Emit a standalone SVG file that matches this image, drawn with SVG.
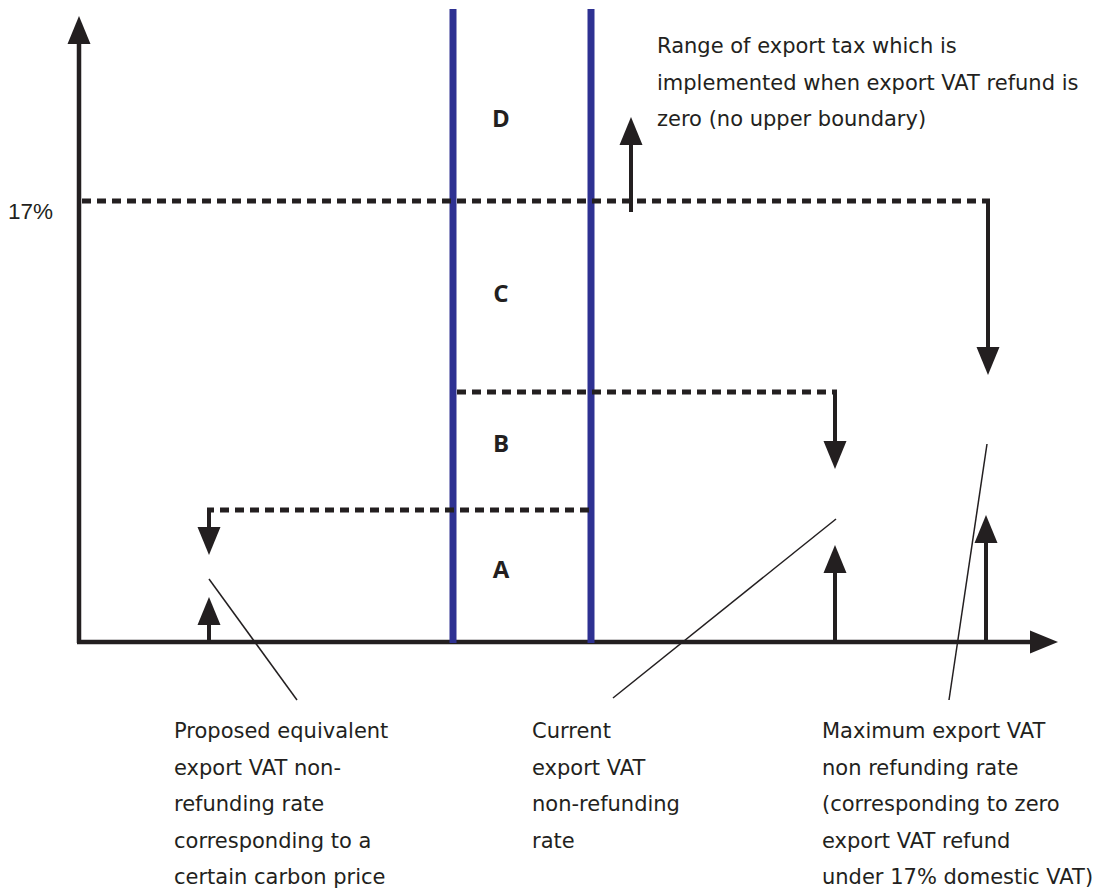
<svg xmlns="http://www.w3.org/2000/svg" width="1094" height="890" viewBox="0 0 1094 890">
<style>
.ax{stroke:#231f20;stroke-width:4.5;fill:none}
.sh{stroke:#231f20;stroke-width:4;fill:none}
.dash{stroke:#231f20;stroke-width:5;fill:none;stroke-dasharray:9 6}
.thin{stroke:#231f20;stroke-width:1.5;fill:none}
.blue{stroke:#2e3192;stroke-width:7;fill:none}
.head{fill:#231f20}
.t{font-family:"DejaVu Sans",sans-serif;font-size:21px;fill:#231f20}
.l{font-family:"Open Sans",sans-serif;font-size:24px;font-weight:700;fill:#231f20}
.p{font-family:"Liberation Sans",Arial,sans-serif;font-size:22.5px;fill:#231f20}
</style>
<rect width="1094" height="890" fill="#fff"/>
<g id="axes">
<line class="ax" x1="79" y1="643" x2="79" y2="40"/>
<polygon class="head" points="79,16 67.5,44 90.5,44"/>
<line class="ax" x1="77" y1="642" x2="1035" y2="642"/>
<polygon class="head" points="1058,642 1030,630.5 1030,653.5"/>
</g>
<g id="bands">
<line class="blue" x1="453" y1="9" x2="453" y2="643"/>
<line class="blue" x1="591" y1="9" x2="591" y2="643"/>
</g>
<g id="connectors">
<path class="dash" d="M82,201 H986"/>
<path class="sh" d="M988,198.5 V350"/>
<polygon class="head" points="988,375 976.5,347 999.5,347"/>
<path class="dash" d="M457,392 H833"/>
<path class="sh" d="M835,389.5 V446"/>
<polygon class="head" points="835,469 823.5,441 846.5,441"/>
<path class="dash" d="M589,510 H211"/>
<path class="sh" d="M209,507.5 V530"/>
<polygon class="head" points="209,555 197.5,527 220.5,527"/>
<path class="sh" d="M631,212 V140"/>
<polygon class="head" points="631,117 619.5,145 642.5,145"/>
<path class="sh" d="M209,642 V620"/>
<polygon class="head" points="209,597 197.5,625 220.5,625"/>
<path class="sh" d="M835,642 V568"/>
<polygon class="head" points="835,545 823.5,573 846.5,573"/>
<path class="sh" d="M986,642 V538"/>
<polygon class="head" points="986,515 974.5,543 997.5,543"/>
<line class="thin" x1="209" y1="579" x2="297" y2="700"/>
<line class="thin" x1="836" y1="519" x2="613" y2="698"/>
<line class="thin" x1="987" y1="444" x2="949" y2="700"/>
</g>
<g id="label-17"><text class="p" x="53" y="218.5" text-anchor="end">17%</text></g>
<g id="region-labels">
<text class="l" x="501" y="127" text-anchor="middle">D</text>
<text class="l" x="501" y="302" text-anchor="middle">C</text>
<text class="l" x="501" y="452" text-anchor="middle">B</text>
<text class="l" x="501" y="578" text-anchor="middle">A</text>
</g>
<g id="note-top">
<text class="t" x="657" y="53">Range of export tax which is</text>
<text class="t" x="657" y="89.5">implemented when export VAT refund is</text>
<text class="t" x="657" y="126">zero (no upper boundary)</text>
</g>
<g id="note-proposed">
<text class="t" x="174" y="738">Proposed equivalent</text>
<text class="t" x="174" y="774.5">export VAT non-</text>
<text class="t" x="174" y="811">refunding rate</text>
<text class="t" x="174" y="847.5">corresponding to a</text>
<text class="t" x="174" y="884">certain carbon price</text>
</g>
<g id="note-current">
<text class="t" x="532" y="738">Current</text>
<text class="t" x="532" y="774.5">export VAT</text>
<text class="t" x="532" y="811">non-refunding</text>
<text class="t" x="532" y="847.5">rate</text>
</g>
<g id="note-maximum">
<text class="t" x="822" y="738">Maximum export VAT</text>
<text class="t" x="822" y="774.5">non refunding rate</text>
<text class="t" x="822" y="811">(corresponding to zero</text>
<text class="t" x="822" y="847.5">export VAT refund</text>
<text class="t" x="822" y="884">under 17% domestic VAT)</text>
</g>
</svg>
